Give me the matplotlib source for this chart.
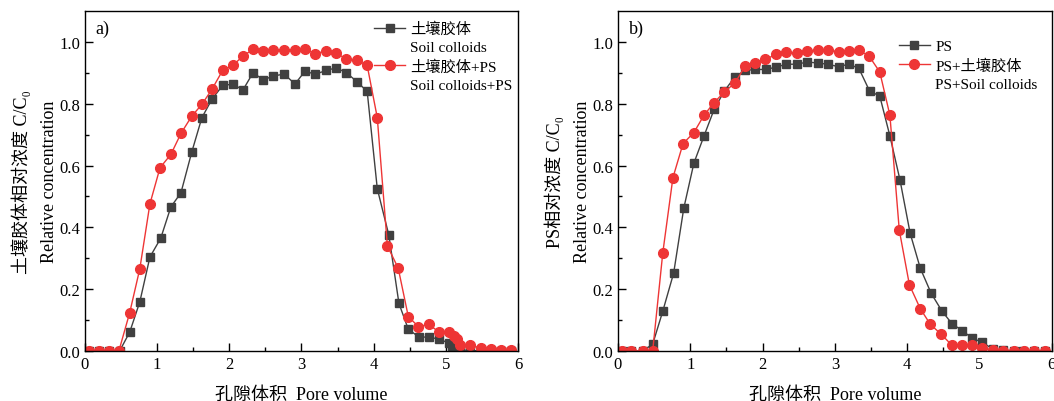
import matplotlib
matplotlib.use("Agg")
import matplotlib.pyplot as plt
from matplotlib.lines import Line2D

plt.rcParams['font.family'] = ['Liberation Serif', 'Noto Sans CJK SC', 'DejaVu Serif']

# --- datos ---
# a) coloides de suelo
a_soil_x = [0.05, 0.19, 0.33, 0.48, 0.62, 0.76, 0.90, 1.05, 1.19, 1.33, 1.48, 1.62, 1.76, 1.91,
            2.05, 2.19, 2.33, 2.47, 2.61, 2.76, 2.91, 3.05, 3.19, 3.34, 3.48, 3.62, 3.77, 3.91,
            4.05, 4.21, 4.35, 4.48, 4.63, 4.77, 4.91, 5.05, 5.08, 5.20, 5.34, 5.48, 5.63, 5.77, 5.90]
a_soil_y = [0, 0, 0, 0, 0.061, 0.159, 0.304, 0.365, 0.466, 0.512, 0.644, 0.755, 0.815, 0.860,
            0.863, 0.845, 0.901, 0.877, 0.890, 0.896, 0.864, 0.906, 0.895, 0.908, 0.916, 0.901, 0.871, 0.840,
            0.525, 0.375, 0.154, 0.070, 0.045, 0.045, 0.038, 0.025, 0.016, 0.003, 0.002, 0, 0, 0, 0]
a_mix_x = [0.05, 0.19, 0.33, 0.47, 0.62, 0.76, 0.90, 1.04, 1.19, 1.33, 1.48, 1.62, 1.76, 1.91,
           2.05, 2.19, 2.33, 2.47, 2.61, 2.76, 2.91, 3.05, 3.19, 3.34, 3.48, 3.62, 3.77, 3.91,
           4.05, 4.19, 4.34, 4.48, 4.62, 4.76, 4.91, 5.05, 5.11, 5.15, 5.20, 5.34, 5.48, 5.63, 5.77, 5.90]
a_mix_y = [0, 0, 0, 0, 0.124, 0.266, 0.476, 0.593, 0.636, 0.704, 0.760, 0.798, 0.847, 0.909,
           0.924, 0.955, 0.976, 0.971, 0.974, 0.974, 0.974, 0.976, 0.962, 0.971, 0.963, 0.946, 0.941, 0.924,
           0.755, 0.340, 0.268, 0.111, 0.079, 0.086, 0.061, 0.061, 0.048, 0.038, 0.020, 0.018, 0.010,
           0.005, 0.003, 0.003]

# b) PS
b_ps_x = [0.05, 0.18, 0.34, 0.48, 0.62, 0.77, 0.91, 1.05, 1.19, 1.33, 1.47, 1.62, 1.76, 1.90,
          2.05, 2.19, 2.33, 2.47, 2.62, 2.76, 2.90, 3.05, 3.19, 3.33, 3.48, 3.62, 3.76, 3.90,
          4.04, 4.18, 4.33, 4.48, 4.62, 4.76, 4.90, 5.04, 5.19, 5.33, 5.47, 5.60, 5.75, 5.90]
b_ps_y = [0, 0, 0, 0.022, 0.129, 0.252, 0.462, 0.608, 0.696, 0.782, 0.841, 0.888, 0.908, 0.911,
          0.911, 0.919, 0.928, 0.928, 0.935, 0.932, 0.928, 0.920, 0.928, 0.915, 0.841, 0.825, 0.696, 0.553,
          0.381, 0.268, 0.187, 0.129, 0.088, 0.066, 0.041, 0.028, 0.005, 0.003, 0, 0, 0, 0]
b_mix_x = [0.05, 0.18, 0.34, 0.48, 0.62, 0.76, 0.90, 1.05, 1.19, 1.33, 1.47, 1.62, 1.76, 1.90,
           2.04, 2.19, 2.33, 2.47, 2.62, 2.76, 2.90, 3.05, 3.19, 3.33, 3.47, 3.62, 3.76, 3.89,
           4.03, 4.18, 4.32, 4.47, 4.62, 4.76, 4.90, 5.04, 5.19, 5.33, 5.47, 5.61, 5.75, 5.90]
b_mix_y = [0, 0, 0, 0, 0.318, 0.561, 0.671, 0.707, 0.763, 0.804, 0.838, 0.868, 0.922, 0.931,
           0.944, 0.960, 0.966, 0.963, 0.971, 0.974, 0.973, 0.969, 0.971, 0.973, 0.955, 0.903, 0.763, 0.391,
           0.214, 0.137, 0.086, 0.054, 0.018, 0.018, 0.018, 0.010, 0.003, 0, 0, 0, 0, 0]

x_ticks = [0, 1, 2, 3, 4, 5, 6]
y_ticks = [0.0, 0.2, 0.4, 0.6, 0.8, 1.0]

gray = '#404040'
red = '#ee3535'

fig = plt.figure(figsize=(10.54, 4.02), dpi=100)
ax_a = fig.add_axes([0.0806, 0.1244, 0.4109, 0.8456])
ax_b = fig.add_axes([0.5863, 0.1244, 0.4117, 0.8456])


def style_axis(ax, ylabel, tag):
    ax.set_xlim(0, 6)
    ax.set_ylim(0, 1.1)
    ax.set_xticks(x_ticks)
    ax.set_yticks(y_ticks)
    ax.set_yticklabels([f'{v:.1f}' for v in y_ticks])
    ax.set_xticks([0.5, 1.5, 2.5, 3.5, 4.5, 5.5], minor=True)
    ax.set_yticks([0.1, 0.3, 0.5, 0.7, 0.9], minor=True)
    ax.tick_params(which='both', direction='in', labelsize=12, width=1)
    ax.tick_params(which='major', length=6)
    ax.tick_params(which='minor', length=3)
    for s in ax.spines.values():
        s.set_linewidth(1)
    ax.set_xlabel('孔隙体积  Pore volume', fontsize=13, labelpad=10)
    ax.set_ylabel(ylabel, fontsize=13, labelpad=1, linespacing=1.75)
    ax.text(0.025, 0.935, tag, transform=ax.transAxes, fontsize=13)


# a)
ax_a.plot(a_soil_x, a_soil_y, '-s', color=gray, lw=1, ms=6)
ax_a.plot(a_mix_x, a_mix_y, '-o', color=red, lw=1, ms=7)
style_axis(ax_a, '土壤胶体相对浓度 C/C₀\nRelative concentration', 'a)')
blank = Line2D([], [], linestyle='none')
h1 = Line2D([], [], color=gray, marker='s', lw=1, ms=6)
h2 = Line2D([], [], color=red, marker='o', lw=1, ms=7)
ax_a.legend([h1, blank, h2, blank],
            ['土壤胶体', 'Soil colloids', '土壤胶体+PS', 'Soil colloids+PS'],
            loc='upper left', bbox_to_anchor=(0.64, 1.005), frameon=False, fontsize=11,
            handlelength=2.0, handletextpad=0.35, labelspacing=0.3, borderpad=0.3)

# b)
ax_b.plot(b_ps_x, b_ps_y, '-s', color=gray, lw=1, ms=6)
ax_b.plot(b_mix_x, b_mix_y, '-o', color=red, lw=1, ms=7)
style_axis(ax_b, 'PS相对浓度 C/C₀\nRelative concentration', 'b)')
ax_b.legend([h1, h2, blank], ['PS', 'PS+土壤胶体', 'PS+Soil colloids'],
            loc='upper left', bbox_to_anchor=(0.62, 0.952), frameon=False, fontsize=11,
            handlelength=2.0, handletextpad=0.35, labelspacing=0.3, borderpad=0.3)

fig.savefig('out.png', dpi=100)
